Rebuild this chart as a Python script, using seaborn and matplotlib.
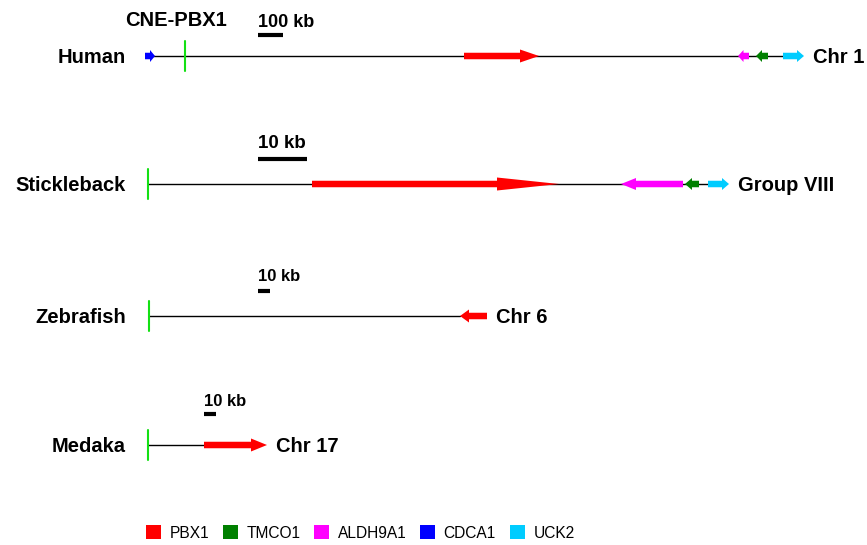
"""Genomic neighbourhood of CNE-PBX1 in four vertebrates."""

import matplotlib
matplotlib.use("Agg")
import matplotlib.pyplot as plt
from matplotlib.patches import FancyArrow, Patch
import seaborn as sns

# rows (x values are positions along each drawn chromosome segment)
SPECIES = ["Human", "Stickleback", "Zebrafish", "Medaka"]
CHROM = ["Chr 1", "Group VIII", "Chr 6", "Chr 17"]
CNE_X = [185, 148, 149, 148]
BACKBONE = [(150, 783), (148, 708), (149, 460), (148, 205)]
SCALE_LABEL = ["100 kb", "10 kb", "10 kb", "10 kb"]
SCALE_START = [258, 258, 258, 204]
SCALE_LEN = [25, 49, 12, 12]

# genes: (name, start, end, strand)
GENES = {
    "Human": [("CDCA1", 145, 155, "+"), ("PBX1", 464, 539, "+"),
              ("ALDH9A1", 738, 749, "-"), ("TMCO1", 756, 768, "-"),
              ("UCK2", 783, 804, "+")],
    "Stickleback": [("PBX1", 312, 559, "+"), ("ALDH9A1", 621, 683, "-"),
                    ("TMCO1", 685, 699, "-"), ("UCK2", 708, 729, "+")],
    "Zebrafish": [("PBX1", 460, 487, "-")],
    "Medaka": [("PBX1", 204, 267, "+")],
}

LEGEND_GENES = ["PBX1", "TMCO1", "ALDH9A1", "CDCA1", "UCK2"]
GENE_COLORS = {"PBX1": "#ff0000", "TMCO1": "#008000", "ALDH9A1": "#ff00ff",
               "CDCA1": "#0000ff", "UCK2": "#00ccff"}

# layout / style
ROW_Y = [56, 184, 316, 445]
SCALE_BAR_Y = [35, 159, 291, 414]
SCALE_TEXT_Y = [27, 148, 281, 406]
SCALE_FS = [13, 13.5, 12, 12]
HEAD_LEN = {("Human", "PBX1"): 19, ("Stickleback", "PBX1"): 62,
            ("Stickleback", "ALDH9A1"): 15, ("Zebrafish", "PBX1"): 9,
            ("Medaka", "PBX1"): 16}
CNE_COLOR = "#14e014"
BIG = 14.5

sns.set_theme(style="white")
plt.rcParams["font.family"] = ["Liberation Sans", "DejaVu Sans"]
plt.rcParams["text.color"] = "black"

fig = plt.figure(figsize=(8.67, 5.45), dpi=100)
ax = fig.add_axes([0, 0, 1, 1])
ax.set_xlim(0, 867)
ax.set_ylim(545, 0)
ax.axis("off")

for i, sp in enumerate(SPECIES):
    y = ROW_Y[i]
    x0, x1 = BACKBONE[i]
    ax.plot([x0, x1], [y, y], color="black", lw=1.0, zorder=1)
    ax.plot([CNE_X[i], CNE_X[i]], [y - 15, y + 15], color=CNE_COLOR, lw=1.5, zorder=3)
    ax.text(126, y + 7, sp, ha="right", va="baseline", fontsize=BIG, fontweight="bold")

    for name, start, end, strand in GENES[sp]:
        length = end - start
        hl = HEAD_LEN.get((sp, name), min(7, length * 0.5))
        hw = 13 if name == "PBX1" else 12
        if strand == "+":
            xs, dx = start, length
        else:
            xs, dx = end, -length
        ax.add_patch(FancyArrow(xs, y, dx, 0, width=6.5, head_width=hw,
                                head_length=hl, length_includes_head=True,
                                color=GENE_COLORS[name], lw=0, zorder=2))

    last = max(g[2] for g in GENES[sp])
    ax.text(last + 9, y + 7, CHROM[i], ha="left", va="baseline",
            fontsize=BIG, fontweight="bold")

    sx = SCALE_START[i]
    ax.plot([sx, sx + SCALE_LEN[i]], [SCALE_BAR_Y[i]] * 2, color="black",
            lw=3, solid_capstyle="butt")
    ax.text(sx, SCALE_TEXT_Y[i], SCALE_LABEL[i], ha="left", va="baseline",
            fontsize=SCALE_FS[i], fontweight="bold")

ax.text(176, 26, "CNE-PBX1", ha="center", va="baseline", fontsize=BIG, fontweight="bold")

handles = [Patch(facecolor=GENE_COLORS[g], edgecolor="none") for g in LEGEND_GENES]
leg = ax.legend(handles, LEGEND_GENES, ncol=5, loc="center left",
                bbox_to_anchor=(146, 533), bbox_transform=ax.transData,
                frameon=False, fontsize=11.2, borderpad=0, borderaxespad=0,
                handlelength=0.95, handleheight=0.95, handletextpad=0.55,
                columnspacing=0.9)
for t in leg.get_texts():
    t.set_color("black")

fig.savefig("out.png", dpi=100, facecolor="white")
